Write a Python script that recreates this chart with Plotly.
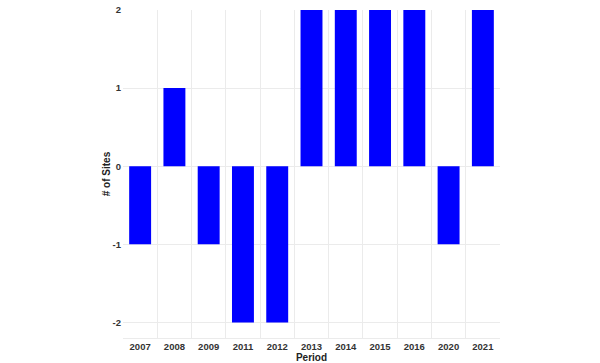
import plotly.graph_objects as go

periods = ["2007", "2008", "2009", "2011", "2012", "2013", "2014", "2015", "2016", "2020", "2021"]
sites = [-1, 1, -1, -2, -2, 2, 2, 2, 2, -1, 2]
y_ticks = [-2, -1, 0, 1, 2]

fig = go.Figure(go.Bar(x=periods, y=sites, marker=dict(color="#0000FF", line=dict(width=0)), width=0.64))

font_family = "Liberation Sans, Arial, sans-serif"
fig.update_layout(
    width=600, height=363,
    margin=dict(l=123, r=100, t=10, b=25, autoexpand=False),
    paper_bgcolor="white", plot_bgcolor="white",
    showlegend=False,
    font=dict(family=font_family, size=9.5, color="#333333"),
    xaxis=dict(
        type="category", tickson="boundaries", ticks="", automargin=False,
        showgrid=True, gridcolor="#EBEBEB", gridwidth=1,
        showline=True, linecolor="#EBEBEB", linewidth=1,
        tickfont=dict(family=font_family, size=9.5, color="#333333", weight="bold"),
        title=dict(text="<b>Period</b>", standoff=3, font=dict(size=10, color="#222222")),
        range=[-0.5, len(periods) - 0.5],
    ),
    yaxis=dict(
        range=[-2.2, 2.0], tickvals=y_ticks, ticktext=[str(v) for v in y_ticks],
        showgrid=True, gridcolor="#EBEBEB", gridwidth=1, zeroline=False, ticks="",
        ticklabelstandoff=1, automargin=False,
        tickfont=dict(family=font_family, size=9.5, color="#333333", weight="bold"),
        title=dict(text="<b># of Sites</b>", standoff=0, font=dict(size=10, color="#222222")),
    ),
)

fig.write_html("out.html", config={"displayModeBar": False},
               post_script="document.body.style.margin='0';")
